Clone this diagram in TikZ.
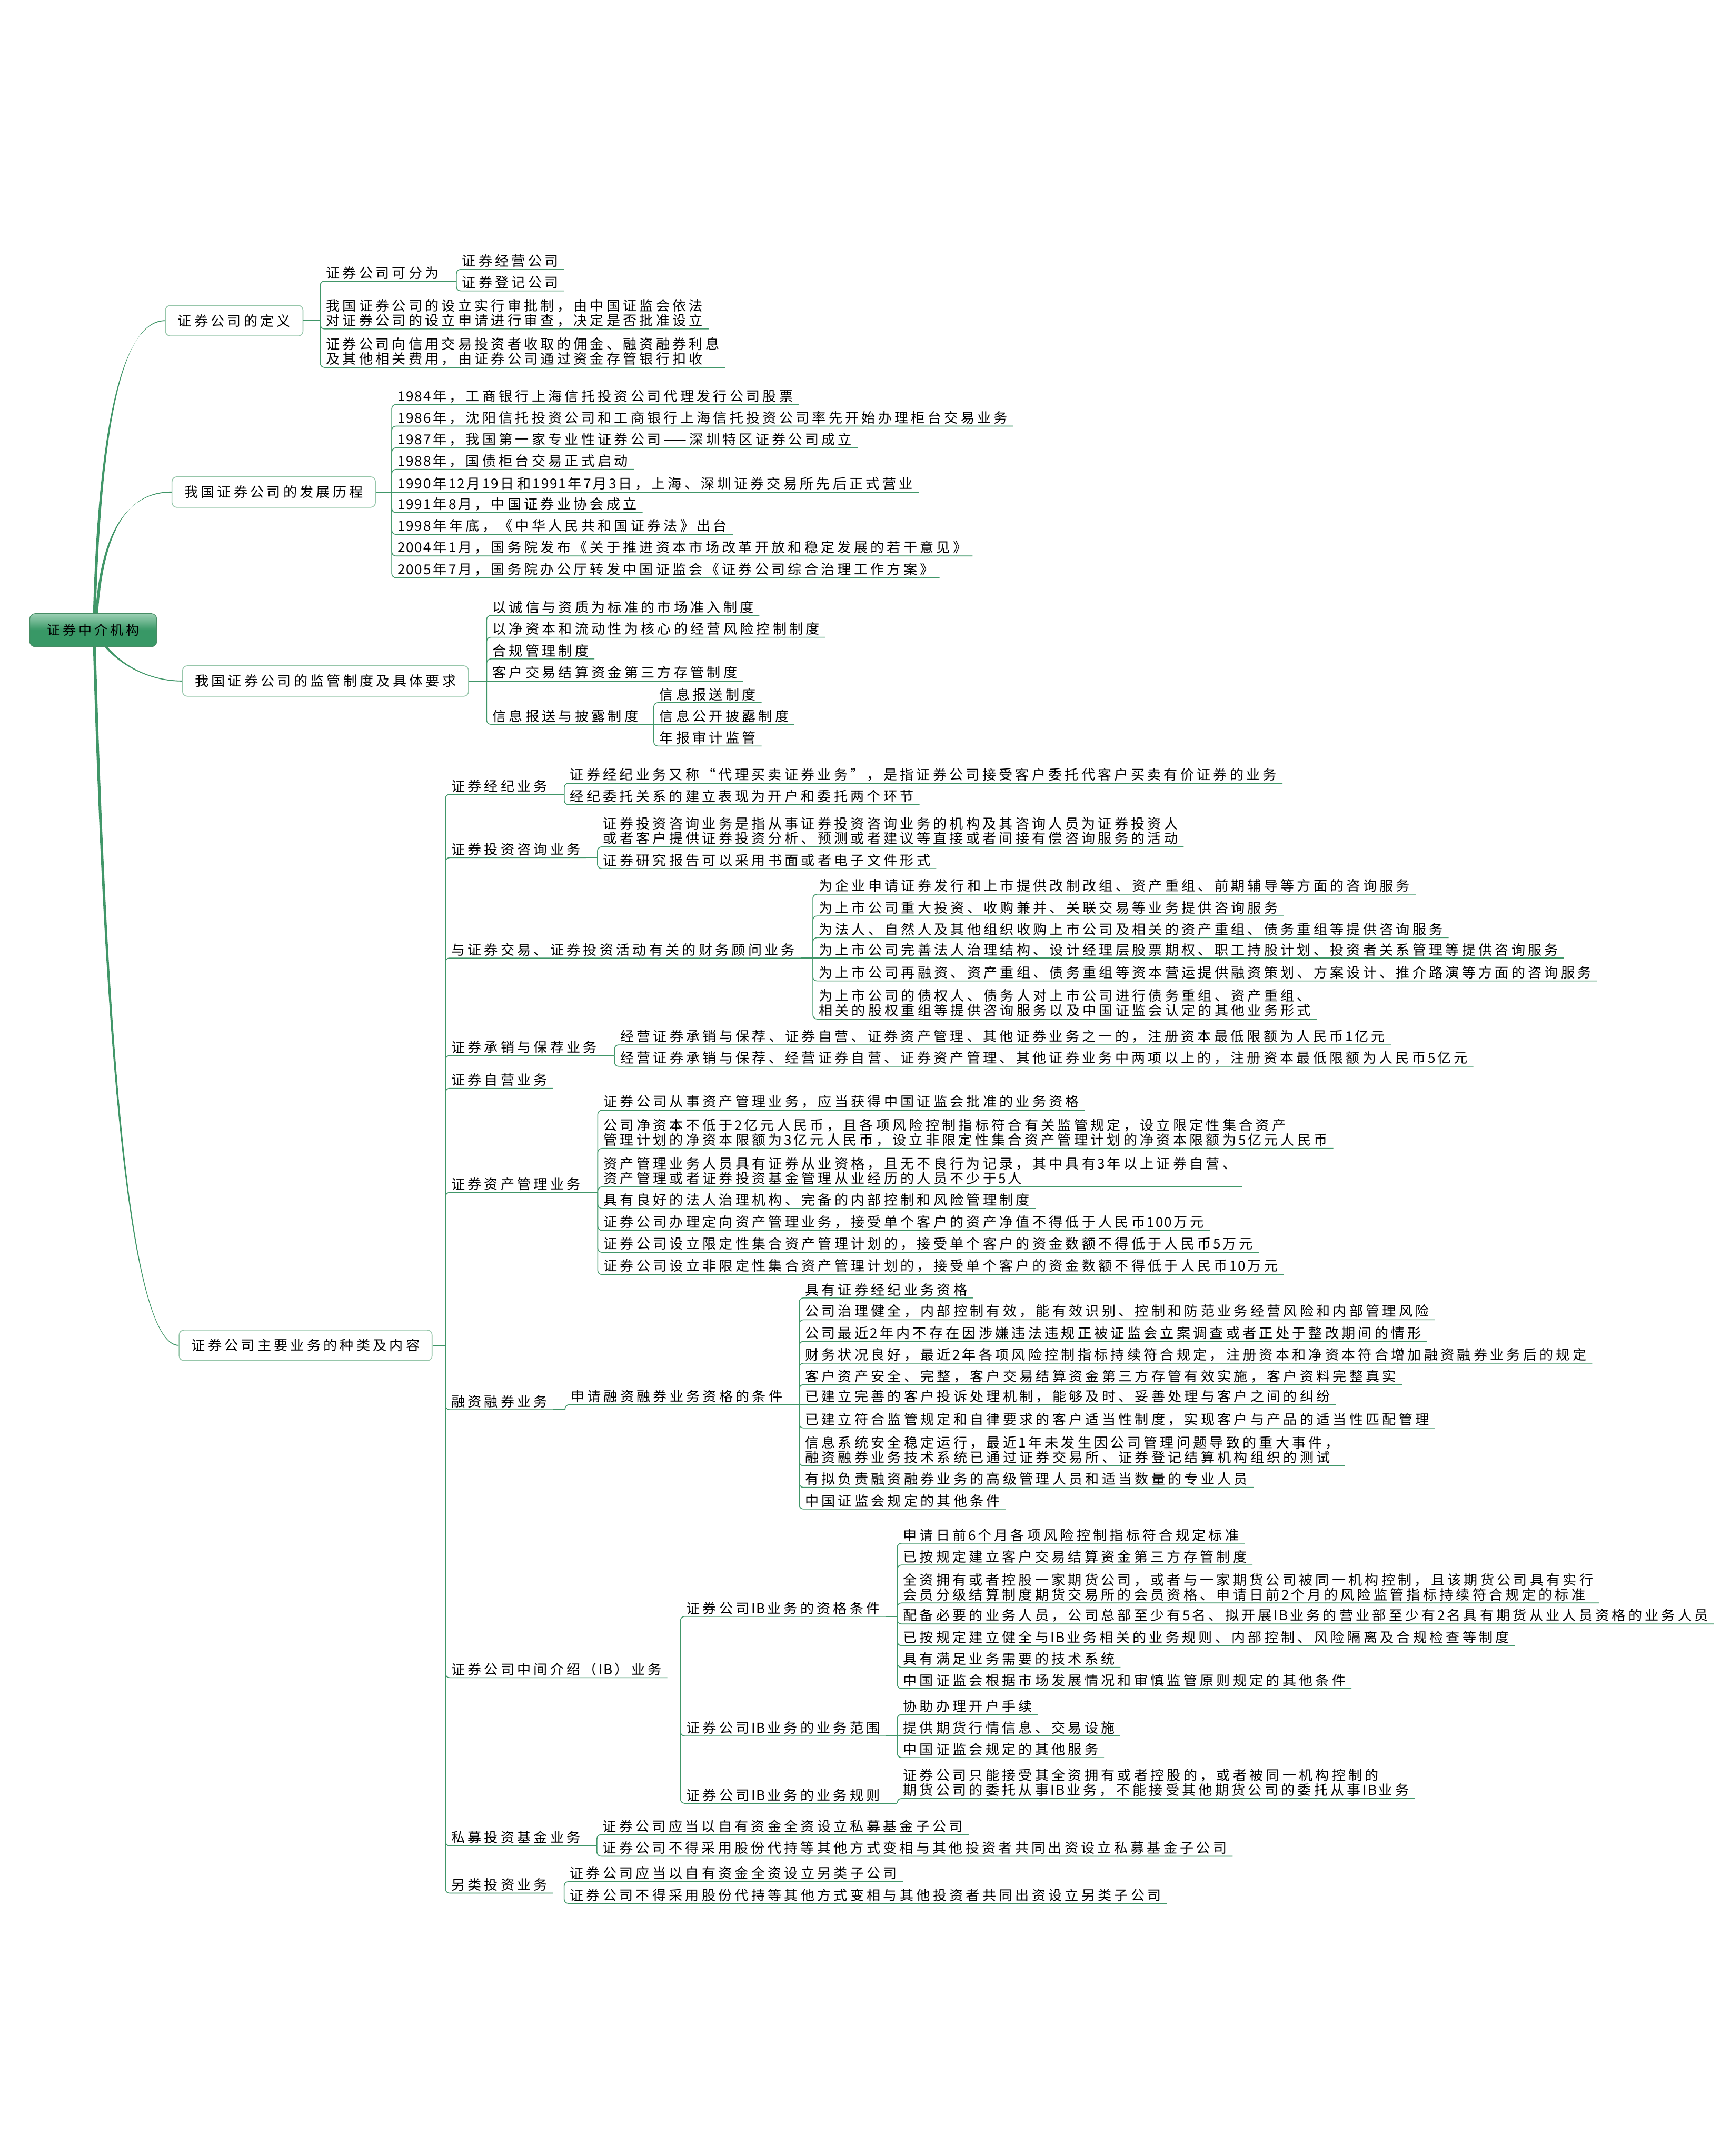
\documentclass[tikz,border=0pt]{standalone}
\usepackage{fontspec}
\newfontfamily\cjk[LetterSpace=20]{Noto Sans CJK SC}
\newfontfamily\cjkd[LetterSpace=7]{Noto Sans CJK SC}
\newcommand\dg[1]{\kern1.4pt{\cjkd #1}\kern1.4pt}
\newcommand\dgs[1]{{\cjkd #1}\kern1.4pt}
\usetikzlibrary{calc}
\pgfdeclarelayer{bg}
\pgfsetlayers{bg,main}
\definecolor{linkc}{RGB}{64,150,104}
\definecolor{boxline}{RGB}{150,198,170}
\definecolor{rootlight}{RGB}{156,208,180}
\definecolor{rootdark}{RGB}{56,152,102}
\definecolor{rootline}{RGB}{70,140,100}
\newcommand\leaffont{\cjk\fontsize{10}{10.8}\selectfont}
\newcommand\rootfont{\cjk\fontsize{9.6}{11}\selectfont}
\tikzset{
 leaf/.style={anchor=south west, inner xsep=4pt, inner ysep=1.2pt, align=left, font=\leaffont},
 link/.style={draw=linkc, line width=0.6pt},
 mainbox/.style={anchor=west, draw=boxline, line width=0.6pt, fill=white, rounded corners=3.5pt, minimum height=22.2pt, inner xsep=9pt, font=\leaffont},
 rootbox/.style={draw=rootline, line width=0.5pt, rounded corners=4pt, top color=rootlight, bottom color=rootdark, middle color=rootdark, minimum width=92.4pt, minimum height=24.1pt, font=\rootfont, text=black},
}
\newcommand\kid[2]{\draw[link] (#1) -- (#1 -| #2.south west); \draw[link,rounded corners=3pt] (#1 -| #2.south west) -- (#2.south west) -- (#2.south east);}
\newcommand\kidS[2]{\draw[link] (#1) -- (#2.south east);}
\newcommand\maincurve[4]{\fill[linkc] ([xshift=-1pt]#1) .. controls ([xshift=-1pt]#2) and ([yshift=-0.35pt]#3) .. ([yshift=-0.35pt]#4.west) -- ([yshift=0.35pt]#4.west) .. controls ([yshift=0.35pt]#3) and ([xshift=1pt]#2) .. ([xshift=1pt]#1) -- cycle;}
\begin{document}
\begin{tikzpicture}[x=1pt,y=-1pt]
\useasboundingbox (0,0) rectangle (1259,1568.6);
% root and main boxes
\node[rootbox] (root) at (67.8,458.5) {证券中介机构};
\node[mainbox] (m1) at (120.1,233.3) {证券公司的定义};
\node[mainbox] (m2) at (124.8,358) {我国证券公司的发展历程};
\node[mainbox] (m3) at (132.5,495.5) {我国证券公司的监管制度及具体要求};
\node[mainbox] (m4) at (130,978.8) {证券公司主要业务的种类及内容};
\begin{pgfonlayer}{bg}
\coordinate (s1) at ([xshift=0.8pt,yshift=-3pt]root.north);
\coordinate (s2) at ([xshift=2.3pt,yshift=-3pt]root.north);
\coordinate (s3) at ([xshift=7pt,yshift=3pt]root.south);
\coordinate (s4) at ([xshift=0.8pt,yshift=3pt]root.south);
\maincurve{s1}{72.6,304.4}{89.8,233.3}{m1}
\maincurve{s2}{73.8,387.4}{92,358}{m2}
\maincurve{s3}{88,485}{110,495.5}{m3}
\maincurve{s4}{78.2,809.4}{98.7,978.8}{m4}
\end{pgfonlayer}
% M1
\node[leaf] (a1) at (233,204.5) {证券公司可分为};
\node[leaf] (a11) at (332,196) {证券经营公司};
\node[leaf] (a12) at (332,211.6) {证券登记公司};
\node[leaf] (a2) at (233,239.3) {我国证券公司的设立实行审批制，由中国证监会依法\\对证券公司的设立申请进行审查，决定是否批准设立};
\node[leaf] (a3) at (233,267.3) {证券公司向信用交易投资者收取的佣金、融资融券利息\\及其他相关费用，由证券公司通过资金存管银行扣收};
\kid{m1.east}{a1} \kid{m1.east}{a2} \kid{m1.east}{a3}
\kid{a1.south east}{a11} \kid{a1.south east}{a12}
% M2
\node[leaf] (b1) at (285,294.3) {\dgs{1984}年，工商银行上海信托投资公司代理发行公司股票};
\node[leaf] (b2) at (285,310.0) {\dgs{1986}年，沈阳信托投资公司和工商银行上海信托投资公司率先开始办理柜台交易业务};
\node[leaf] (b3) at (285,325.8) {\dgs{1987}年，我国第一家专业性证券公司——深圳特区证券公司成立};
\node[leaf] (b4) at (285,341.5) {\dgs{1988}年，国债柜台交易正式启动};
\node[leaf] (b5) at (285,358) {\dgs{1990}年\dg{12}月\dg{19}日和\dg{1991}年\dg{7}月\dg{3}日，上海、深圳证券交易所先后正式营业};
\node[leaf] (b6) at (285,373.0) {\dgs{1991}年\dg{8}月，中国证券业协会成立};
\node[leaf] (b7) at (285,388.8) {\dgs{1998}年年底，《中华人民共和国证券法》出台};
\node[leaf] (b8) at (285,404.5) {\dgs{2004}年\dg{1}月，国务院发布《关于推进资本市场改革开放和稳定发展的若干意见》};
\node[leaf] (b9) at (285,420.3) {\dgs{2005}年\dg{7}月，国务院办公厅转发中国证监会《证券公司综合治理工作方案》};
\kid{m2.east}{b1} \kid{m2.east}{b2} \kid{m2.east}{b3} \kid{m2.east}{b4}
\kidS{m2.east}{b5}
\kid{m2.east}{b6} \kid{m2.east}{b7} \kid{m2.east}{b8} \kid{m2.east}{b9}
% M3
\node[leaf] (c1) at (354,447.8) {以诚信与资质为标准的市场准入制度};
\node[leaf] (c2) at (354,463.6) {以净资本和流动性为核心的经营风险控制制度};
\node[leaf] (c3) at (354,479.4) {合规管理制度};
\node[leaf] (c4) at (354,495.5) {客户交易结算资金第三方存管制度};
\node[leaf] (c5) at (354,527.0) {信息报送与披露制度};
\node[leaf] (c51) at (475.6,511.2) {信息报送制度};
\node[leaf] (c52) at (475.6,527.0) {信息公开披露制度};
\node[leaf] (c53) at (475.6,542.8) {年报审计监管};
\kid{m3.east}{c1} \kid{m3.east}{c2} \kid{m3.east}{c3} \kidS{m3.east}{c4} \kid{m3.east}{c5}
\kid{c5.south east}{c51} \kidS{c5.south east}{c52} \kid{c5.south east}{c53}
% M4
\node[leaf] (d1) at (324,578) {证券经纪业务};
\node[leaf] (d11) at (410.5,569.9) {证券经纪业务又称“代理买卖证券业务”，是指证券公司接受客户委托代客户买卖有价证券的业务};
\node[leaf] (d12) at (410.5,585.4) {经纪委托关系的建立表现为开户和委托两个环节};
\node[leaf] (d2) at (324,624) {证券投资咨询业务};
\node[leaf] (d21) at (434.6,616.1) {证券投资咨询业务是指从事证券投资咨询业务的机构及其咨询人员为证券投资人\\或者客户提供证券投资分析、预测或者建议等直接或者间接有偿咨询服务的活动};
\node[leaf] (d22) at (434.6,631.9) {证券研究报告可以采用书面或者电子文件形式};
\node[leaf] (d3) at (324,697) {与证券交易、证券投资活动有关的财务顾问业务};
\node[leaf] (d31) at (591.3,650.6) {为企业申请证券发行和上市提供改制改组、资产重组、前期辅导等方面的咨询服务};
\node[leaf] (d32) at (591.3,666.4) {为上市公司重大投资、收购兼并、关联交易等业务提供咨询服务};
\node[leaf] (d33) at (591.3,682.2) {为法人、自然人及其他组织收购上市公司及相关的资产重组、债务重组等提供咨询服务};
\node[leaf] (d34) at (591.3,697) {为上市公司完善法人治理结构、设计经理层股票期权、职工持股计划、投资者关系管理等提供咨询服务};
\node[leaf] (d35) at (591.3,713.7) {为上市公司再融资、资产重组、债务重组等资本营运提供融资策划、方案设计、推介路演等方面的咨询服务};
\node[leaf] (d36) at (591.3,741.4) {为上市公司的债权人、债务人对上市公司进行债务重组、资产重组、\\相关的股权重组等提供咨询服务以及中国证监会认定的其他业务形式};
\node[leaf] (d4) at (324,768) {证券承销与保荐业务};
\node[leaf] (d41) at (447,760.2) {经营证券承销与保荐、证券自营、证券资产管理、其他证券业务之一的，注册资本最低限额为人民币\dg{1}亿元};
\node[leaf] (d42) at (447,775.8) {经营证券承销与保荐、经营证券自营、证券资产管理、其他证券业务中两项以上的，注册资本最低限额为人民币\dg{5}亿元};
\node[leaf] (d5) at (324,791.8) {证券自营业务};
\node[leaf] (d6) at (324,867.6) {证券资产管理业务};
\node[leaf] (d61) at (434.8,807.8) {证券公司从事资产管理业务，应当获得中国证监会批准的业务资格};
\node[leaf] (d62) at (434.8,835.5) {公司净资本不低于\dg{2}亿元人民币，且各项风险控制指标符合有关监管规定，设立限定性集合资产\\管理计划的净资本限额为\dg{3}亿元人民币，设立非限定性集合资产管理计划的净资本限额为\dg{5}亿元人民币};
\node[leaf] (d63) at (434.8,863.5) {资产管理业务人员具有证券从业资格，且无不良行为记录，其中具有\dg{3}年以上证券自营、\\资产管理或者证券投资基金管理从业经历的人员不少于\dg{5}人};
\node[leaf] (d64) at (434.8,879.2) {具有良好的法人治理机构、完备的内部控制和风险管理制度};
\node[leaf] (d65) at (434.8,895.2) {证券公司办理定向资产管理业务，接受单个客户的资产净值不得低于人民币\dg{100}万元};
\node[leaf] (d66) at (434.8,911.1) {证券公司设立限定性集合资产管理计划的，接受单个客户的资金数额不得低于人民币\dg{5}万元};
\node[leaf] (d67) at (434.8,927.3) {证券公司设立非限定性集合资产管理计划的，接受单个客户的资金数额不得低于人民币\dg{10}万元};
\node[leaf] (d7) at (324,1025.6) {融资融券业务};
\node[leaf] (d71) at (411,1022) {申请融资融券业务资格的条件};
\node[leaf] (e1) at (581.4,944.3) {具有证券经纪业务资格};
\node[leaf] (e2) at (581.4,960.2) {公司治理健全，内部控制有效，能有效识别、控制和防范业务经营风险和内部管理风险};
\node[leaf] (e3) at (581.4,975.9) {公司最近\dg{2}年内不存在因涉嫌违法违规正被证监会立案调查或者正处于整改期间的情形};
\node[leaf] (e4) at (581.4,991.8) {财务状况良好，最近\dg{2}年各项风险控制指标持续符合规定，注册资本和净资本符合增加融资融券业务后的规定};
\node[leaf] (e5) at (581.4,1007.4) {客户资产安全、完整，客户交易结算资金第三方存管有效实施，客户资料完整真实};
\node[leaf] (e6) at (581.4,1022) {已建立完善的客户投诉处理机制，能够及时、妥善处理与客户之间的纠纷};
\node[leaf] (e7) at (581.4,1038.9) {已建立符合监管规定和自律要求的客户适当性制度，实现客户与产品的适当性匹配管理};
\node[leaf] (e8) at (581.4,1066.4) {信息系统安全稳定运行，最近\dg{1}年未发生因公司管理问题导致的重大事件，\\融资融券业务技术系统已通过证券交易所、证券登记结算机构组织的测试};
\node[leaf] (e9) at (581.4,1082.1) {有拟负责融资融券业务的高级管理人员和适当数量的专业人员};
\node[leaf] (e10) at (581.4,1097.9) {中国证监会规定的其他条件};
\node[leaf] (d8) at (324,1220.6) {证券公司中间介绍（\dg{IB}）业务};
\node[leaf] (f1) at (495,1176) {证券公司\dg{IB}业务的资格条件};
\node[leaf] (f11) at (652.7,1122.8) {申请日前\dg{6}个月各项风险控制指标符合规定标准};
\node[leaf] (f12) at (652.7,1138.6) {已按规定建立客户交易结算资金第三方存管制度};
\node[leaf] (f13) at (652.7,1166.2) {全资拥有或者控股一家期货公司，或者与一家期货公司被同一机构控制，且该期货公司具有实行\\会员分级结算制度期货交易所的会员资格、申请日前\dg{2}个月的风险监管指标持续符合规定的标准};
\node[leaf] (f14) at (652.7,1181.5) {配备必要的业务人员，公司总部至少有\dg{5}名、拟开展\dg{IB}业务的营业部至少有\dg{2}名具有期货从业人员资格的业务人员};
\node[leaf] (f15) at (652.7,1197.3) {已按规定建立健全与\dg{IB}业务相关的业务规则、内部控制、风险隔离及合规检查等制度};
\node[leaf] (f16) at (652.7,1213.1) {具有满足业务需要的技术系统};
\node[leaf] (f17) at (652.7,1228.5) {中国证监会根据市场发展情况和审慎监管原则规定的其他条件};
\node[leaf] (f2) at (495,1263) {证券公司\dg{IB}业务的业务范围};
\node[leaf] (f21) at (652.7,1247.4) {协助办理开户手续};
\node[leaf] (f22) at (652.7,1263) {提供期货行情信息、交易设施};
\node[leaf] (f23) at (652.7,1278.7) {中国证监会规定的其他服务};
\node[leaf] (f3) at (495,1312) {证券公司\dg{IB}业务的业务规则};
\node[leaf] (f31) at (652.7,1308.5) {证券公司只能接受其全资拥有或者控股的，或者被同一机构控制的\\期货公司的委托从事\dg{IB}业务，不能接受其他期货公司的委托从事\dg{IB}业务};
\node[leaf] (d9) at (324,1342.9) {私募投资基金业务};
\node[leaf] (g1) at (434.2,1334.8) {证券公司应当以自有资金全资设立私募基金子公司};
\node[leaf] (g2) at (434.2,1350.5) {证券公司不得采用股份代持等其他方式变相与其他投资者共同出资设立私募基金子公司};
\node[leaf] (d10) at (324,1377.3) {另类投资业务};
\node[leaf] (h1) at (410.4,1369) {证券公司应当以自有资金全资设立另类子公司};
\node[leaf] (h2) at (410.4,1384.8) {证券公司不得采用股份代持等其他方式变相与其他投资者共同出资设立另类子公司};
% M4 links
\kid{m4.east}{d1} \kid{m4.east}{d2} \kid{m4.east}{d3} \kid{m4.east}{d4} \kid{m4.east}{d5}
\kid{m4.east}{d6} \kid{m4.east}{d7} \kid{m4.east}{d8} \kid{m4.east}{d9} \kid{m4.east}{d10}
\kid{d1.south east}{d11} \kid{d1.south east}{d12}
\kid{d2.south east}{d21} \kid{d2.south east}{d22}
\kid{d3.south east}{d31} \kid{d3.south east}{d32} \kid{d3.south east}{d33} \kidS{d3.south east}{d34} \kid{d3.south east}{d35} \kid{d3.south east}{d36}
\kid{d4.south east}{d41} \kid{d4.south east}{d42}
\kid{d6.south east}{d61} \kid{d6.south east}{d62} \kid{d6.south east}{d63} \kid{d6.south east}{d64} \kid{d6.south east}{d65} \kid{d6.south east}{d66} \kid{d6.south east}{d67}
\kid{d7.south east}{d71}
\kid{d71.south east}{e1} \kid{d71.south east}{e2} \kid{d71.south east}{e3} \kid{d71.south east}{e4} \kid{d71.south east}{e5}
\kidS{d71.south east}{e6}
\kid{d71.south east}{e7} \kid{d71.south east}{e8} \kid{d71.south east}{e9} \kid{d71.south east}{e10}
\kid{d8.south east}{f1} \kid{d8.south east}{f2} \kid{d8.south east}{f3}
\kid{f1.south east}{f11} \kid{f1.south east}{f12} \kid{f1.south east}{f13} \kid{f1.south east}{f14} \kid{f1.south east}{f15} \kid{f1.south east}{f16} \kid{f1.south east}{f17}
\kid{f2.south east}{f21} \kidS{f2.south east}{f22} \kid{f2.south east}{f23}
\kid{f3.south east}{f31}
\kid{d9.south east}{g1} \kid{d9.south east}{g2}
\kid{d10.south east}{h1} \kid{d10.south east}{h2}
\end{tikzpicture}
\end{document}
